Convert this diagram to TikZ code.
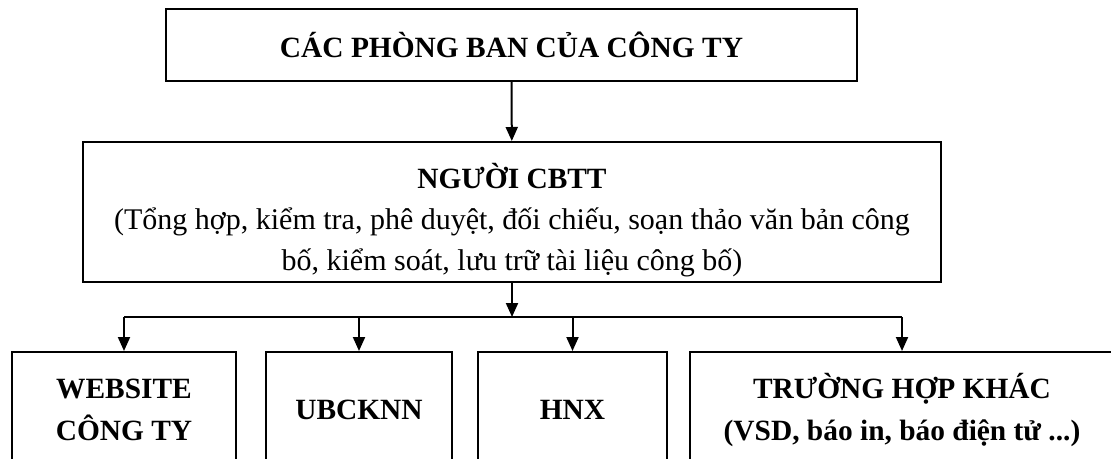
\documentclass[tikz,border=0pt]{standalone}
\usepackage{fontspec}
\setmainfont{Liberation Serif}
\usepackage{tikz}
\usetikzlibrary{positioning, arrows.meta}

\tikzset{
    box/.style={draw, line width=1pt, inner sep=0pt, align=center,
        font=\fontsize{15}{20.5}\selectfont},
    boldbox/.style={box, font=\fontsize{14.7}{21}\selectfont\bfseries},
    arr/.style={line width=1pt, -{Triangle[length=7pt, width=6pt]}},
    link/.style={line width=1pt}
}

\begin{document}
\begin{tikzpicture}[x=0.5pt, y=-0.5pt]
\useasboundingbox (0,0) rectangle (1111,459);
\clip (0,0) rectangle (1111,459);

% Top box
\node[boldbox, minimum width=345.5pt, minimum height=36pt] (phongban) at (511.5,45)
    {CÁC PHÒNG BAN CỦA CÔNG TY};

% Middle box
\node[box, minimum width=429pt, minimum height=70pt] (cbtt) at (512,212)
    {\rule{0pt}{21pt}\textbf{\fontsize{14.7}{21}\selectfont NGƯỜI CBTT}\\
     (Tổng hợp, kiểm tra, phê duyệt, đối chiếu, soạn thảo văn bản công\\
     bố, kiểm soát, lưu trữ tài liệu công bố)};

% Bottom boxes
\node[boldbox, minimum width=112pt, minimum height=58pt] (website) at (124,410)
    {WEBSITE\\CÔNG TY};
\node[boldbox, minimum width=93pt, minimum height=58pt] (ubck) at (359,410)
    {UBCKNN};
\node[boldbox, minimum width=94.5pt, minimum height=58pt] (hnx) at (572.5,410)
    {HNX};
\node[boldbox, minimum width=212pt, minimum height=58pt] (khac) at (902,410)
    {TRƯỜNG HỢP KHÁC\\(VSD, báo in, báo điện tử ...)};

% Connectors
\coordinate (bus) at (512,317);
\draw[arr] (phongban) -- (cbtt);
\draw[arr] (cbtt.south) -- (bus);
\draw[link] (website.north |- bus) -- (khac.north |- bus);
\foreach \n in {website, ubck, hnx, khac}
    \draw[arr] (\n.north |- bus) -- (\n.north);

\end{tikzpicture}
\end{document}
